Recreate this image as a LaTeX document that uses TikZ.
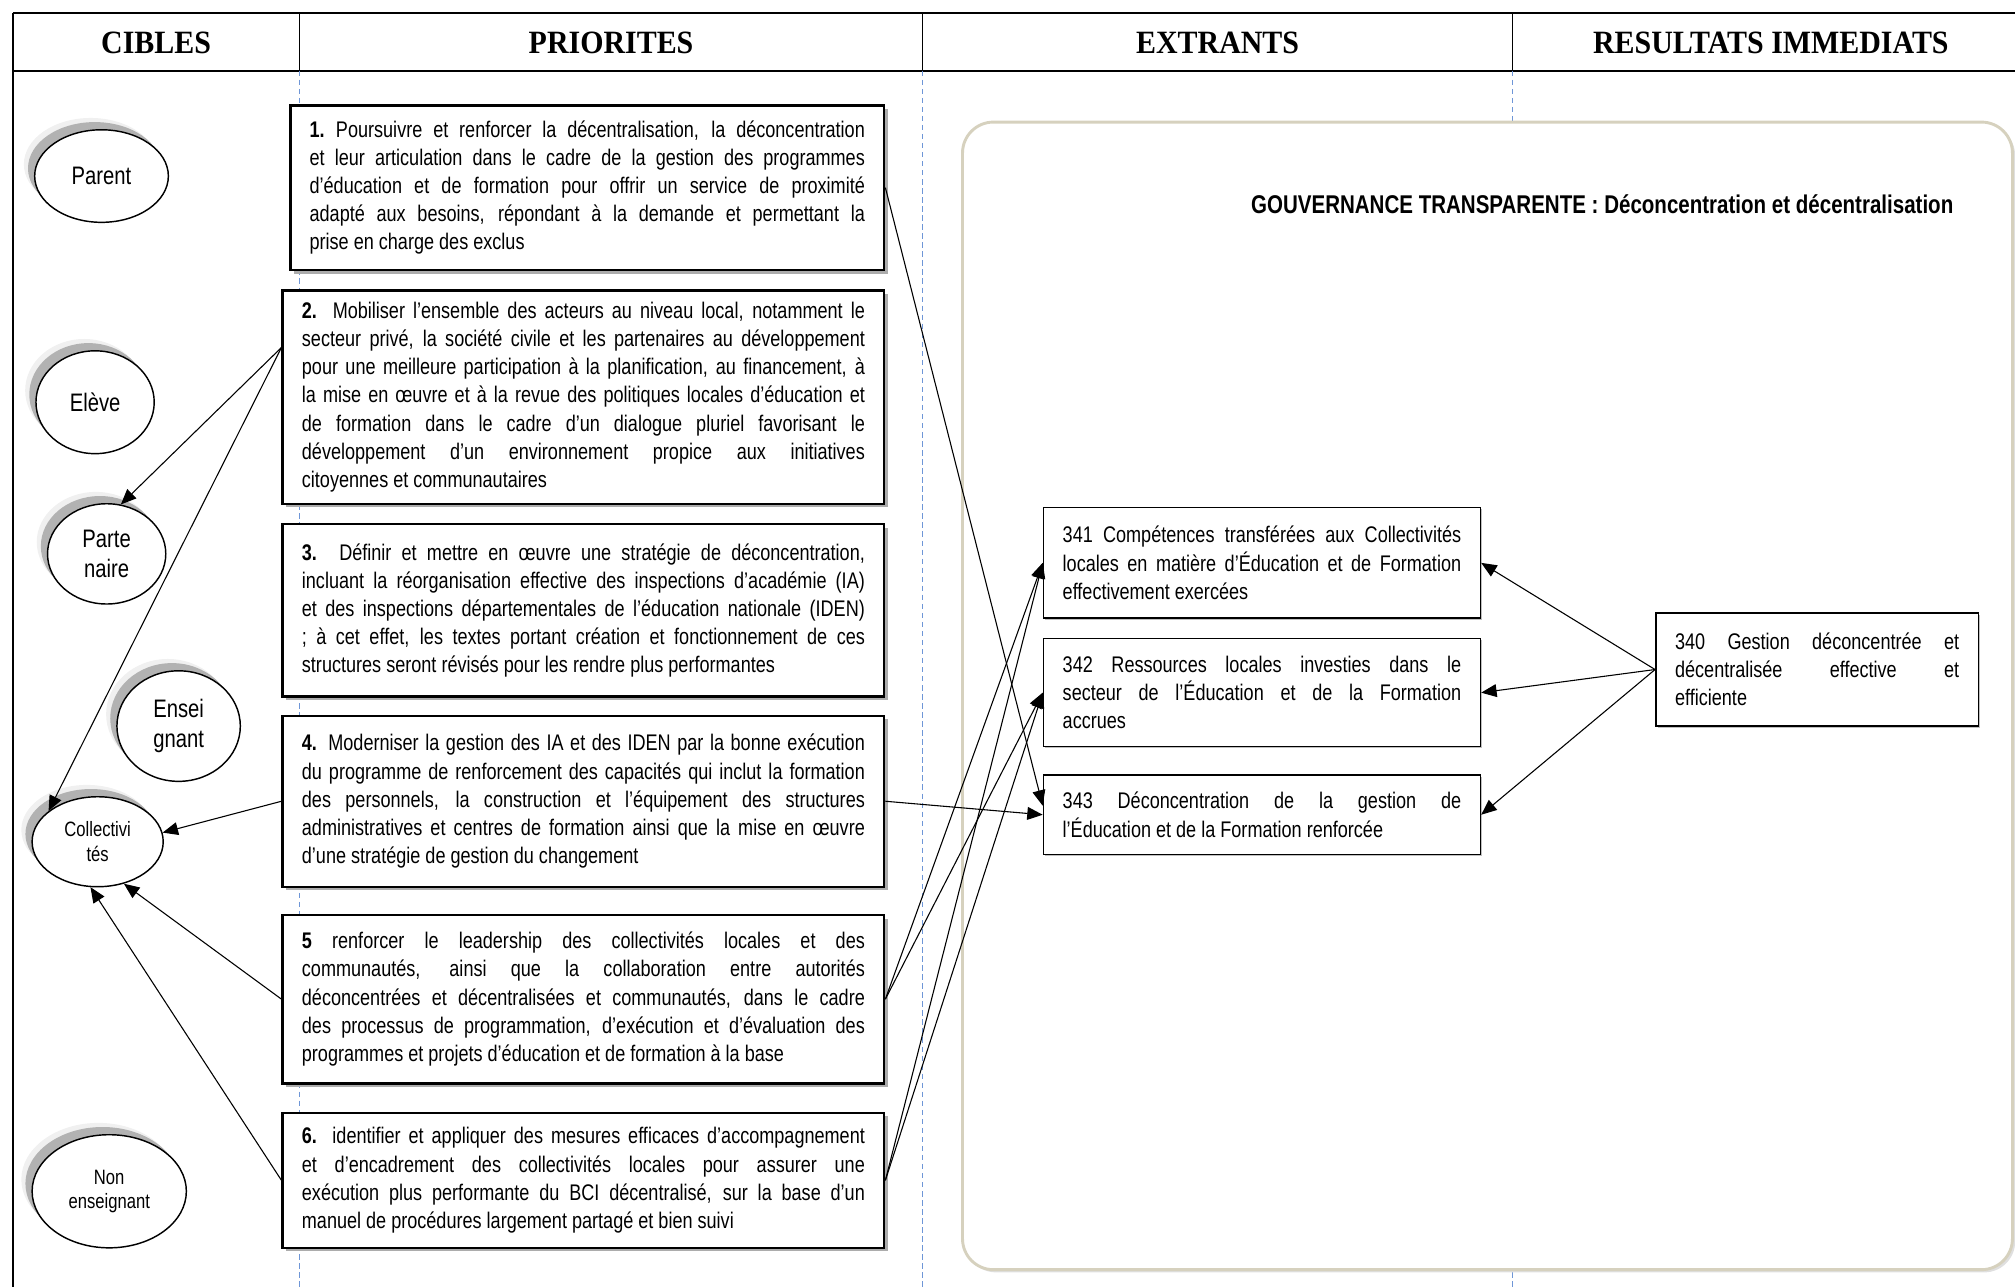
\documentclass[tikz,border=0pt]{standalone}
\usepackage{fontspec}
\setmainfont[FakeStretch=0.8]{Liberation Sans}
\newfontfamily\entete[FakeStretch=0.92]{Liberation Serif}
\usetikzlibrary{shapes.geometric,shadows,arrows.meta,calc}

\definecolor{bordbeige}{RGB}{214,209,190}
\definecolor{tiretbleu}{RGB}{110,150,215}

\tikzset{
  prio/.style={draw, line width=1.3pt, fill=white, align=justify, inner xsep=0.375cm, inner ysep=0pt,
    font=\fontsize{12.5}{15.6}\selectfont,
    drop shadow={shadow xshift=2pt, shadow yshift=-2pt, fill=gray!65, opacity=1}},
  extrant/.style={draw, line width=0.8pt, fill=white, align=justify, inner xsep=0.375cm, inner ysep=0pt,
    font=\fontsize{12.5}{15.6}\selectfont,
    drop shadow={shadow xshift=1pt, shadow yshift=-1pt, fill=gray!50, opacity=1}},
  cible/.style={ellipse, draw, line width=0.8pt, fill=white, inner sep=0pt, align=center,
    font=\fontsize{14}{17}\selectfont,
    drop shadow={shadow xshift=-2.1mm, shadow yshift=2.3mm, fill=gray!12, opacity=1},
    drop shadow={shadow xshift=-1.3mm, shadow yshift=1.5mm, fill=gray!60, opacity=1}},
  petit/.style={font=\fontsize{11.5}{13.5}\selectfont},
  fleche/.style={-{Triangle[length=3mm,width=2.5mm]}, line width=0.6pt},
  titrecol/.style={font=\entete\fontsize{18}{20}\selectfont\bfseries},
  tiret/.style={draw=tiretbleu, line width=0.5pt, dash pattern=on 3pt off 2pt}
}

\begin{document}
\begin{tikzpicture}[x=0.025cm, y=-0.025cm]
  \useasboundingbox (0,0) rectangle (1568,1001);
  \clip (0,0) rectangle (1568,1001);

  % table frame and column headers
  \draw[line width=1.2pt] (10,10) -- (1600,10);
  \draw[line width=1pt] (10,55) -- (1600,55);
  \draw[line width=0.8pt] (10,10) -- (10,1010);
  \foreach \x in {233,718,1177}
    \draw[line width=0.6pt] (\x,10) -- (\x,55);
  \foreach \x in {233,718,1177}
    \draw[tiret] (\x,55) -- (\x,1010);
  \node[titrecol] (hcibles) at (121.5,33) {CIBLES};
  \node[titrecol] (hprio) at (475.5,33) {PRIORITES};
  \node[titrecol] (hextr) at (947.5,33) {EXTRANTS};
  \node[titrecol] (hres) at (1378,33) {RESULTATS IMMEDIATS};

  % rounded frame of the programme
  \draw[draw=bordbeige, line width=1.6pt, fill=white, rounded corners=0.6cm,
    drop shadow={shadow xshift=1.5pt, shadow yshift=-1.5pt, fill=gray!25, opacity=1}]
    (749,95) rectangle (1566,988);
  \node[anchor=east, font=\fontsize{14.2}{16}\selectfont\bfseries] (titre) at (1525,159)
    {GOUVERNANCE TRANSPARENTE : Déconcentration et décentralisation};

  % cibles
  \node[cible, minimum width=2.6cm, minimum height=1.8cm] (parent) at (79,137) {Parent};
  \node[cible, minimum width=2.3cm, minimum height=2cm] (eleve) at (74,313) {Elève};
  \node[cible, minimum width=2.3cm, minimum height=1.95cm] (partenaire) at (83,431) {Parte\\naire};
  \node[cible, minimum width=2.4cm, minimum height=2.15cm] (enseignant) at (139,565) {Ensei\\gnant};
  \node[cible, petit, minimum width=2.55cm, minimum height=1.75cm] (collectivites) at (76,655) {Collectivi\\tés};
  \node[cible, petit, minimum width=3cm, minimum height=2.2cm] (nonens) at (85,927) {Non\\enseignant};

  % priorites
  \node[prio, text width=10.8cm, minimum height=3.2cm] (p1) at (457,146)
    {\textbf{1.}\enspace Poursuivre et renforcer la décentralisation, la déconcentration\linebreak
     et leur articulation dans le cadre de la gestion des programmes\linebreak
     d’éducation et de formation pour offrir un service de proximité\linebreak
     adapté aux besoins, répondant à la demande et permettant la\linebreak
     prise en charge des exclus};
  \node[prio, text width=10.95cm, minimum height=4.15cm] (p2) at (454,309)
    {\textbf{2.} Mobiliser l’ensemble des acteurs au niveau local, notamment le\linebreak
     secteur privé, la société civile et les partenaires au développement\linebreak
     pour une meilleure participation à la planification, au financement, à\linebreak
     la mise en œuvre et à la revue des politiques locales d’éducation et\linebreak
     de formation dans le cadre d’un dialogue pluriel favorisant le\linebreak
     développement d’un environnement propice aux initiatives\linebreak
     citoyennes et communautaires};
  \node[prio, text width=10.95cm, minimum height=3.35cm] (p3) at (454,475)
    {\textbf{3.} Définir et mettre en œuvre une stratégie de déconcentration,\linebreak
     incluant la réorganisation effective des inspections d’académie (IA)\linebreak
     et des inspections départementales de l’éducation nationale (IDEN)\linebreak
     ; à cet effet, les textes portant création et fonctionnement de ces\linebreak
     structures seront révisés pour les rendre plus performantes};
  \node[prio, text width=10.95cm, minimum height=3.325cm] (p4) at (454,623.5)
    {\textbf{4.} Moderniser la gestion des IA et des IDEN par la bonne exécution\linebreak
     du programme de renforcement des capacités qui inclut la formation\linebreak
     des personnels, la construction et l’équipement des structures\linebreak
     administratives et centres de formation ainsi que la mise en œuvre\linebreak
     d’une stratégie de gestion du changement};
  \node[prio, text width=10.95cm, minimum height=3.275cm] (p5) at (454,777.5)
    {\textbf{5} renforcer le leadership des collectivités locales et des\linebreak
     communautés, ainsi que la collaboration entre autorités\linebreak
     déconcentrées et décentralisées et communautés, dans le cadre\linebreak
     des processus de programmation, d’exécution et d’évaluation des\linebreak
     programmes et projets d’éducation et de formation à la base};
  \node[prio, text width=10.95cm, minimum height=2.625cm] (p6) at (454,918.5)
    {\textbf{6.} identifier et appliquer des mesures efficaces d’accompagnement\linebreak
     et d’encadrement des collectivités locales pour assurer une\linebreak
     exécution plus performante du BCI décentralisé, sur la base d’un\linebreak
     manuel de procédures largement partagé et bien suivi};

  % extrants
  \node[extrant, text width=7.75cm, minimum height=2.15cm] (e341) at (982,438)
    {341 Compétences transférées aux Collectivités\linebreak
     locales en matière d’Éducation et de Formation\linebreak
     effectivement exercées};
  \node[extrant, text width=7.75cm, minimum height=2.1cm] (e342) at (982,539)
    {342 Ressources locales investies dans le\linebreak
     secteur de l’Éducation et de la Formation\linebreak
     accrues};
  \node[extrant, text width=7.75cm, minimum height=1.55cm] (e343) at (982,634)
    {343 Déconcentration de la gestion de\linebreak
     l’Éducation et de la Formation renforcée};

  % resultat immediat
  \node[extrant, text width=5.525cm, minimum height=2.2cm] (e340) at (1414,521)
    {340 Gestion déconcentrée et\linebreak
     décentralisée effective et\linebreak
     efficiente};

  % priorites -> cibles
  \coordinate (p2g) at ($(p2.north west)!0.27!(p2.south west)$);
  \draw[fleche] (p2g) -- (partenaire.74);
  \draw[fleche] (p2g) -- (collectivites.148);
  \draw[fleche] (p4.west) -- (collectivites.8);
  \draw[fleche] (p5.west) -- (collectivites.-58);
  \draw[fleche] (p6.west) -- (collectivites.-99);

  % priorites -> extrants
  \draw[fleche] (p1.east) -- ([yshift=5pt]e343.west);
  \draw[fleche] (p4.east) -- (e343.west);
  \draw[fleche] (p5.east) -- (e341.west);
  \draw[fleche] (p5.east) -- (e342.west);
  \draw[fleche] (p6.east) -- (e341.west);
  \draw[fleche] (p6.east) -- (e342.west);

  % resultat -> extrants
  \draw[fleche] (e340.west) -- (e341.east);
  \draw[fleche] (e340.west) -- (e342.east);
  \draw[fleche] (e340.west) -- (e343.east);
\end{tikzpicture}
\end{document}
